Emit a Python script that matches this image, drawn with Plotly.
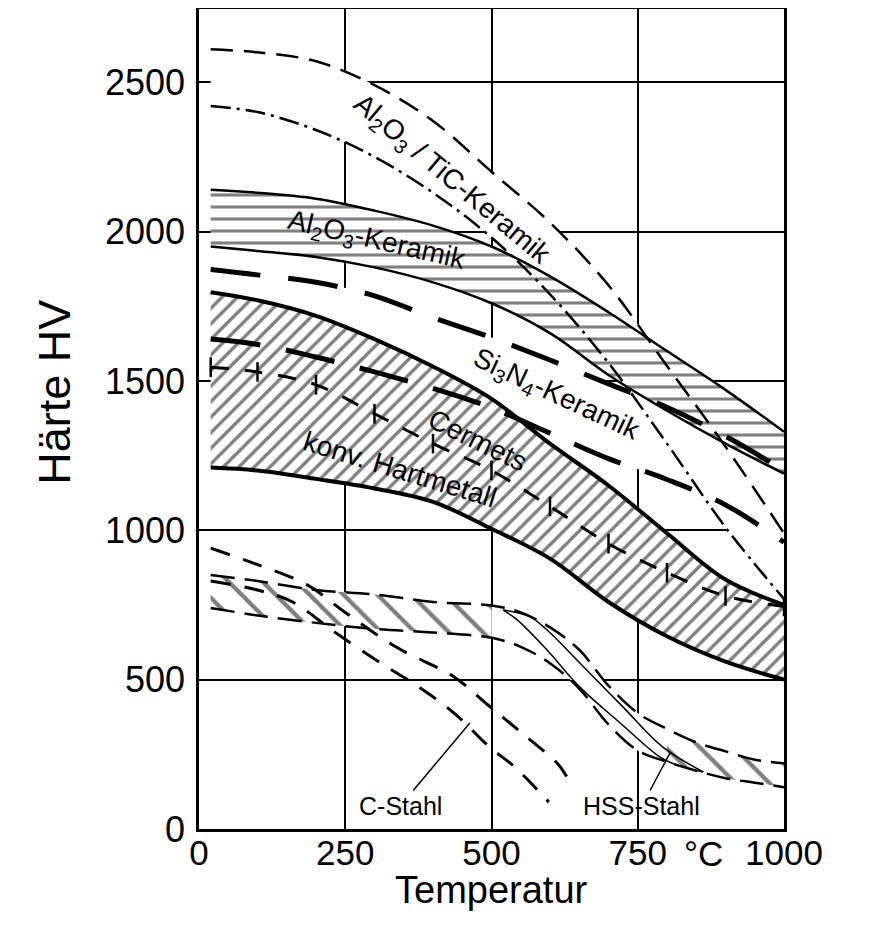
import plotly.graph_objects as go

# ---------------- data ----------------
T_STD = [20, 100, 200, 300, 400, 500, 600, 700, 800, 900, 1000]

TIC_UPPER = [2610, 2600, 2570, 2490, 2370, 2200, 2030, 1820, 1550, 1280, 990]
TIC_LOWER = [2420, 2400, 2340, 2250, 2130, 1980, 1790, 1560, 1290, 1010, 770]
AL2O3_UPPER = [2140, 2130, 2110, 2070, 2020, 1950, 1850, 1730, 1600, 1470, 1330]
AL2O3_LOWER = [1950, 1935, 1915, 1880, 1830, 1760, 1660, 1520, 1400, 1290, 1190]
SI3N4_UPPER = [1873, 1855, 1830, 1785, 1712, 1645, 1570, 1490, 1412, 1315, 1200]
SI3N4_LOWER = [1640, 1622, 1580, 1530, 1475, 1410, 1325, 1240, 1170, 1085, 960]
CERMET = [1546, 1530, 1487, 1390, 1290, 1200, 1080, 955, 858, 780, 745]
HM_UPPER = [1797, 1770, 1718, 1640, 1548, 1440, 1290, 1150, 990, 835, 750]
HM_LOWER = [1210, 1200, 1172, 1140, 1095, 1005, 905, 760, 645, 560, 500]

HSS_T = [20, 100, 200, 300, 400, 500, 550, 600, 650, 700, 750, 800, 850, 900, 950, 1000]
HSS_UPPER = [850, 830, 800, 785, 760, 748, 725, 675, 600, 480, 388, 335, 290, 260, 232, 220]
HSS_LOWER = [740, 715, 690, 670, 658, 640, 610, 555, 470, 350, 263, 225, 195, 170, 155, 140]

RIBBON_UP_T = [520, 566, 595, 651, 725, 793, 862]
RIBBON_UP = [733, 710, 666, 556, 408, 274, 191]
RIBBON_LO_T = [520, 544, 595, 651, 720, 788, 817, 862]
RIBBON_LO = [733, 700, 599, 475, 355, 241, 214, 191]

CST_UP_T = [20, 100, 185, 250, 337, 436, 494, 560, 612, 629]
CST_UP = [940, 885, 817, 725, 609, 509, 415, 308, 221, 174]
CST_LO_T = [20, 100, 160, 232, 311, 376, 436, 497, 540, 598]
CST_LO = [830, 800, 760, 659, 555, 475, 388, 274, 207, 90]

X_TICKS = [0, 250, 500, 750, 1000]
X_TICKTEXT = ["0", "250", "500", "750", "1000"]
Y_TICKS = [0, 500, 1000, 1500, 2000, 2500]
Y_TICKTEXT = ["0", "500", "1000", "1500", "2000", "2500"]

# label anchors (data coordinates) and angles
LABELS = [
    ("Al<sub>2</sub>O<sub>3</sub> / TiC-Keramik", 432, 2172, 40),
    ("Al<sub>2</sub>O<sub>3</sub>-Keramik", 305, 1968, 13),
    ("Si<sub>3</sub>N<sub>4</sub>-Keramik", 610, 1450, 25),
    ("Cermets", 477, 1302, 26),
    ("konv. Hartmetall", 344, 1205, 17),
]
LEADERS = [  # text, text-center T, text-center HV, pointer T, pointer HV
    ("C-Stahl", 344, 77, 463, 355),
    ("HSS-Stahl", 757, 77, 805, 254),
]
UNIT_T = 862  # position of the "°C" unit on the x axis

FONT = "Liberation Sans, Arial, Helvetica, sans-serif"

fig = go.Figure()


def band(x_lo, y_lo, x_hi, y_hi, pattern=None):
    fig.add_trace(go.Scatter(x=x_lo, y=y_lo, mode="lines",
                             line=dict(width=0, shape="spline"),
                             hoverinfo="skip", showlegend=False))
    kw = dict(fill="tonexty", fillcolor="white")
    if pattern is not None:
        kw["fillpattern"] = pattern
    fig.add_trace(go.Scatter(x=x_hi, y=y_hi, mode="lines",
                             line=dict(width=0, shape="spline"),
                             hoverinfo="skip", showlegend=False, **kw))


def line(x, y, width, dash="solid", **extra):
    fig.add_trace(go.Scatter(x=x, y=y, mode=extra.pop("mode", "lines"),
                             line=dict(color="black", width=width, dash=dash,
                                       shape="spline"),
                             hoverinfo="skip", showlegend=False, **extra))


# white bands (hide grid)
band(T_STD, TIC_LOWER, T_STD, TIC_UPPER)
band(T_STD, SI3N4_LOWER, T_STD, SI3N4_UPPER)
band(HSS_T[5:12], HSS_LOWER[5:12], HSS_T[5:12], HSS_UPPER[5:12])

# hatched bands
band(T_STD, AL2O3_LOWER, T_STD, AL2O3_UPPER,
     dict(shape="-", size=12, solidity=0.26, fgcolor="black", bgcolor="white"))
band(T_STD, HM_LOWER, T_STD, HM_UPPER,
     dict(shape="/", size=11, solidity=0.3, fgcolor="black", bgcolor="white"))
band(HSS_T[:6], HSS_LOWER[:6], HSS_T[:6], HSS_UPPER[:6],
     dict(shape="\\", size=24, solidity=0.18, fgcolor="black", bgcolor="white"))
band(HSS_T[11:], HSS_LOWER[11:], HSS_T[11:], HSS_UPPER[11:],
     dict(shape="\\", size=24, solidity=0.18, fgcolor="black", bgcolor="white"))

# lines
line(T_STD, TIC_UPPER, 2.5, "22px,11px")
line(T_STD, TIC_LOWER, 2.5, "20px,6px,3px,6px")
line(T_STD, AL2O3_UPPER, 2.5)
line(T_STD, AL2O3_LOWER, 2.5)
line(T_STD, SI3N4_UPPER, 5, "50px,28px")
line(T_STD, SI3N4_LOWER, 5, "50px,26px")
line(T_STD, HM_UPPER, 4)
line(T_STD, HM_LOWER, 4)
line(T_STD, CERMET, 3, "18px,16px", mode="lines+markers",
     marker=dict(symbol="line-ns", size=14, color="black",
                 line=dict(color="black", width=2.5)))
line(HSS_T, HSS_UPPER, 2.5, "24px,10px")
line(HSS_T, HSS_LOWER, 2.5, "24px,10px")
line(RIBBON_UP_T, RIBBON_UP, 1.5)
line(RIBBON_LO_T, RIBBON_LO, 1.5)
line(CST_UP_T, CST_UP, 3, "20px,14px")
line(CST_LO_T, CST_LO, 3, "20px,14px")

annotations = []
for text, x, y, ang in LABELS:
    annotations.append(dict(x=x, y=y, xref="x", yref="y", text=text,
                            textangle=ang, showarrow=False,
                            font=dict(family=FONT, size=28, color="black")))
for text, tx, ty, px, py in LEADERS:
    annotations.append(dict(x=px, y=py, xref="x", yref="y", ax=tx, ay=ty,
                            axref="x", ayref="y", text=text, showarrow=True,
                            arrowhead=0, arrowwidth=1.5, arrowcolor="black",
                            standoff=0,
                            font=dict(family=FONT, size=25, color="black")))
annotations.append(dict(x=UNIT_T, y=0, xref="x", yref="paper", text="°C",
                        showarrow=False, yanchor="middle", yshift=-24,
                        font=dict(family=FONT, size=35, color="black")))
annotations.append(dict(x=0.5, y=0, xref="paper", yref="paper",
                        text="Temperatur", showarrow=False,
                        yanchor="middle", yshift=-61,
                        font=dict(family=FONT, size=38, color="black")))
annotations.append(dict(x=0, y=0.532, xref="paper", yref="paper",
                        text="Härte HV", showarrow=False, textangle=-90,
                        xanchor="center", yanchor="middle", xshift=-144,
                        font=dict(family=FONT, size=45, color="black")))

# The page body has an 8 px default margin, so the figure is sized to fit
fig.update_layout(
    width=857, height=909,
    margin=dict(l=191, r=81, t=1, b=88, autoexpand=False),
    paper_bgcolor="white", plot_bgcolor="white",
    font=dict(family=FONT, color="black"),
    annotations=annotations,
    showlegend=False,
)
fig.update_xaxes(range=[0, 1000], tickvals=X_TICKS, ticktext=X_TICKTEXT,
                 showgrid=True, gridcolor="black", gridwidth=1.5,
                 showline=True, linecolor="black", linewidth=2.5, mirror=True,
                 zeroline=False, ticks="", ticklabelstandoff=-9,
                 automargin=False, tickfont=dict(size=35, family=FONT))
fig.update_yaxes(range=[0, 2745], tickvals=Y_TICKS, ticktext=Y_TICKTEXT,
                 showgrid=True, gridcolor="black", gridwidth=1.5,
                 showline=True, linecolor="black", linewidth=2.5, mirror=True,
                 zeroline=False, ticks="", ticklabelstandoff=4,
                 automargin=False, tickfont=dict(size=36, family=FONT))

fig.write_html("out.html")
